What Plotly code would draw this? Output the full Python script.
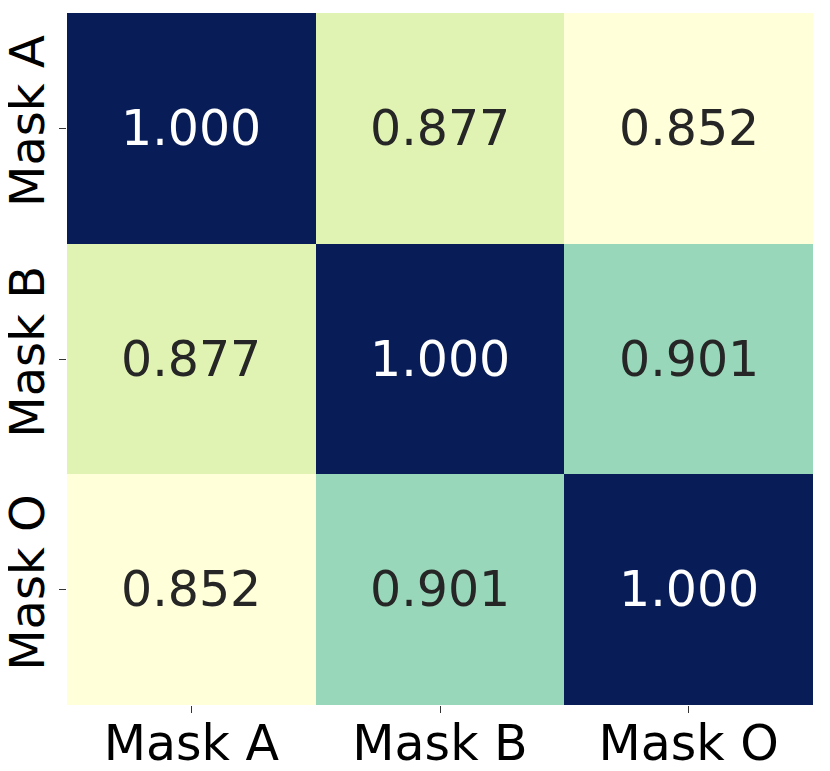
import plotly.graph_objects as go
import plotly.colors as pc

labels = ['Mask A', 'Mask B', 'Mask O']
values = [[1.000, 0.877, 0.852],
          [0.877, 1.000, 0.901],
          [0.852, 0.901, 1.000]]

fig = go.Figure(go.Heatmap(
    z=values, x=labels, y=labels,
    colorscale=pc.sequential.YlGnBu,
    showscale=False,
    xgap=0, ygap=0,
))

annotations = []
for i, row in enumerate(values):
    for j, v in enumerate(row):
        annotations.append(dict(
            x=labels[j], y=labels[i], text=f"{v:.3f}", showarrow=False,
            font=dict(size=49, color='white' if v > 0.95 else '#262626'),
        ))

fig.update_layout(
    width=830, height=771,
    margin=dict(l=59, r=25, t=5, b=74),
    paper_bgcolor='white', plot_bgcolor='white',
    font=dict(family='DejaVu Sans', size=49, color='black'),
    annotations=annotations,
)
fig.update_xaxes(showgrid=False, zeroline=False, ticks='outside', ticklen=7,
                 tickcolor='#333', tickfont_size=49, automargin=False,
                 ticklabelstandoff=-12)
fig.update_yaxes(showgrid=False, zeroline=False, ticks='outside', ticklen=7,
                 tickcolor='#333', autorange='reversed', tickangle=-90,
                 tickfont_size=48, automargin=False, ticklabelstandoff=-4)

fig.write_html("out.html")
